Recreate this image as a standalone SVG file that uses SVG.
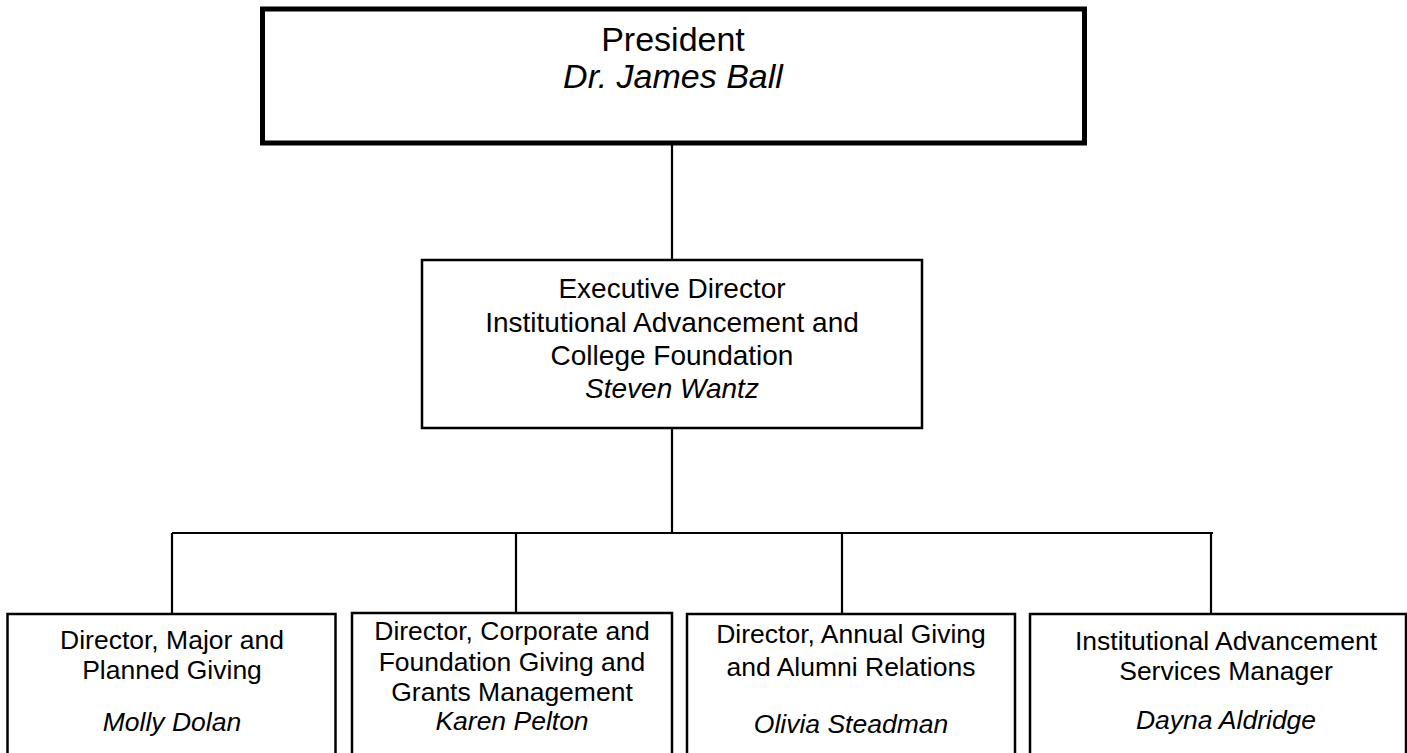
<svg xmlns="http://www.w3.org/2000/svg" width="1407" height="753" viewBox="0 0 1407 753">
<style>
.box{fill:#fff;stroke:#000;stroke-width:2.5}
.top{fill:#fff;stroke:#000;stroke-width:5}
.ln{stroke:#000;stroke-width:2.2;fill:none}
text{font-family:"Liberation Sans",Arial,sans-serif;fill:#000;text-anchor:middle}
.i{font-style:italic}
.t1{font-size:34px}
.t2{font-size:28px}
.t3{font-size:26.5px}
</style>
<rect width="1407" height="753" fill="#fff"/>
<g id="connectors">
<line class="ln" x1="672" y1="145" x2="672" y2="260"/>
<line class="ln" x1="672" y1="428" x2="672" y2="533"/>
<line class="ln" x1="172" y1="533" x2="1213" y2="533"/>
<line class="ln" x1="172" y1="533" x2="172" y2="614"/>
<line class="ln" x1="516" y1="533" x2="516" y2="613"/>
<line class="ln" x1="842" y1="533" x2="842" y2="614"/>
<line class="ln" x1="1211" y1="533" x2="1211" y2="614"/>
</g>
<g id="president">
<rect class="top" x="262.5" y="9" width="822" height="134"/>
<text class="t1" x="673" y="51">President</text>
<text class="t1 i" x="673" y="88">Dr. James Ball</text>
</g>
<g id="executive-director">
<rect class="box" x="422" y="260" width="500" height="168"/>
<text class="t2" x="672" y="298">Executive Director</text>
<text class="t2" x="672" y="332">Institutional Advancement and</text>
<text class="t2" x="672" y="365">College Foundation</text>
<text class="t2 i" x="672" y="398">Steven Wantz</text>
</g>
<g id="major-giving">
<rect class="box" x="7.5" y="614" width="328" height="160"/>
<text class="t3" x="172" y="649">Director, Major and</text>
<text class="t3" x="172" y="679">Planned Giving</text>
<text class="t3 i" x="172" y="731">Molly Dolan</text>
</g>
<g id="corporate-giving">
<rect class="box" x="352" y="613" width="320" height="160"/>
<text class="t3" x="512" y="640">Director, Corporate and</text>
<text class="t3" x="512" y="671">Foundation Giving and</text>
<text class="t3" x="512" y="701">Grants Management</text>
<text class="t3 i" x="512" y="730">Karen Pelton</text>
</g>
<g id="annual-giving">
<rect class="box" x="687" y="614" width="328" height="160"/>
<text class="t3" x="851" y="643">Director, Annual Giving</text>
<text class="t3" x="851" y="676">and Alumni Relations</text>
<text class="t3 i" x="851" y="733">Olivia Steadman</text>
</g>
<g id="services-manager">
<rect class="box" x="1030" y="614" width="376" height="160"/>
<text class="t3" x="1226" y="650">Institutional Advancement</text>
<text class="t3" x="1226" y="680">Services Manager</text>
<text class="t3 i" x="1226" y="729">Dayna Aldridge</text>
</g>
</svg>
